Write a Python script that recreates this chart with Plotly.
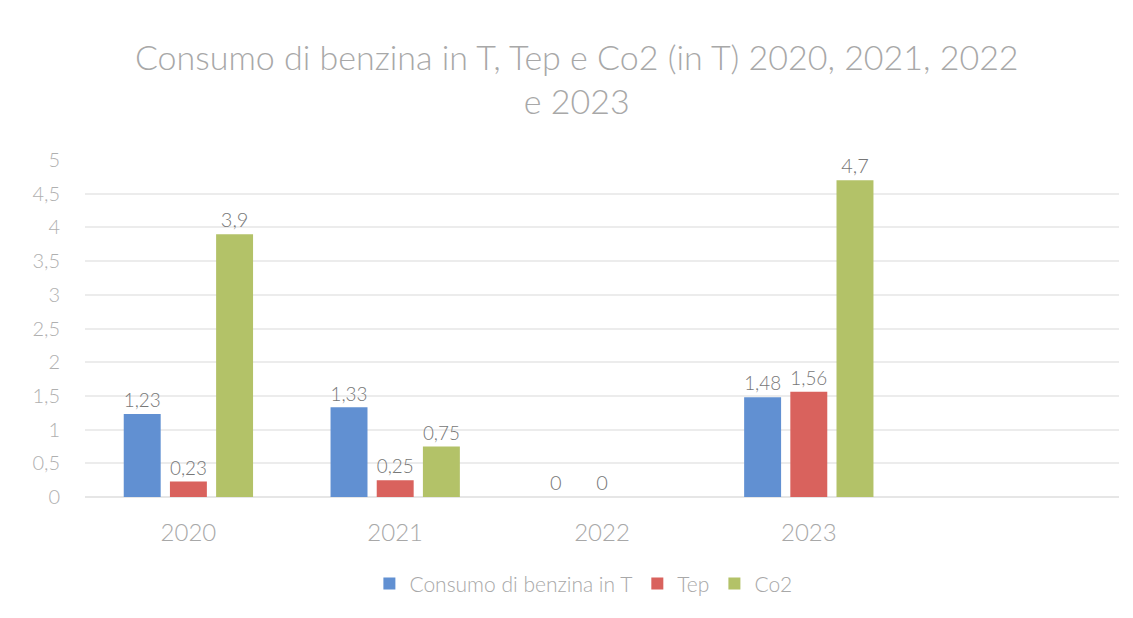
import plotly.graph_objects as go

categories = ["2020", "2021", "2022", "2023", ""]
consumo = [1.23, 1.33, 0, 1.48, None]
tep = [0.23, 0.25, 0, 1.56, None]
co2 = [3.9, 0.75, None, 4.7, None]
y_ticks = [0, 0.5, 1, 1.5, 2, 2.5, 3, 3.5, 4, 4.5, 5]

series = [
    ("Consumo di benzina in T", consumo, "#6190d2"),
    ("Tep", tep, "#d9625d"),
    ("Co2", co2, "#b3c268"),
]

def fmt(v):
    if v is None:
        return ""
    return ("%g" % v).replace(".", ",")

FONT = "Lato, 'Open Sans', sans-serif"
fig = go.Figure()
for name, vals, col in series:
    fig.add_trace(go.Bar(
        x=categories, y=vals, name=name,
        marker=dict(color=col, line=dict(width=0)),
        text=[fmt(v) for v in vals],
        textposition="outside",
        textfont=dict(family=FONT, size=20, color="#777777", weight=300),
        cliponaxis=False,
    ))

fig.update_layout(
    width=1133, height=618,
    paper_bgcolor="white", plot_bgcolor="white",
    barmode="group", bargap=0.33, bargroupgap=0.2,
    separators=",.",
    title=dict(
        text="Consumo di benzina in T, Tep e Co2 (in T) 2020, 2021, 2022<br>e 2023",
        x=0.502, xanchor="center", y=0.9, yanchor="top",
        font=dict(family=FONT, size=34, color="#a8a8a8", weight=300),
    ),
    margin=dict(l=77, r=22, t=152, b=129),
    font=dict(family=FONT, color="#a8a8a8"),
    legend=dict(
        orientation="h", x=0.482, xanchor="center", y=-0.258, yanchor="middle",
        font=dict(family=FONT, size=21, color="#a8a8a8", weight=300),
        itemwidth=30,
    ),
    xaxis=dict(
        type="category", showgrid=False, showline=False, zeroline=False,
        ticks="", tickfont=dict(size=24, color="#a8a8a8", weight=300),
        ticklabelstandoff=19,
    ),
    yaxis=dict(
        range=[0, 5], tickvals=y_ticks,
        ticktext=[fmt(v) for v in y_ticks],
        showgrid=True, gridcolor="#ececec", gridwidth=1.5,
        zeroline=True, zerolinecolor="#e6e6e6", zerolinewidth=1.5,
        showline=False, ticks="",
        tickfont=dict(size=20, color="#b0b0b0", weight=300),
        ticklabelstandoff=24,
    ),
)

fig.write_html("out.html")
